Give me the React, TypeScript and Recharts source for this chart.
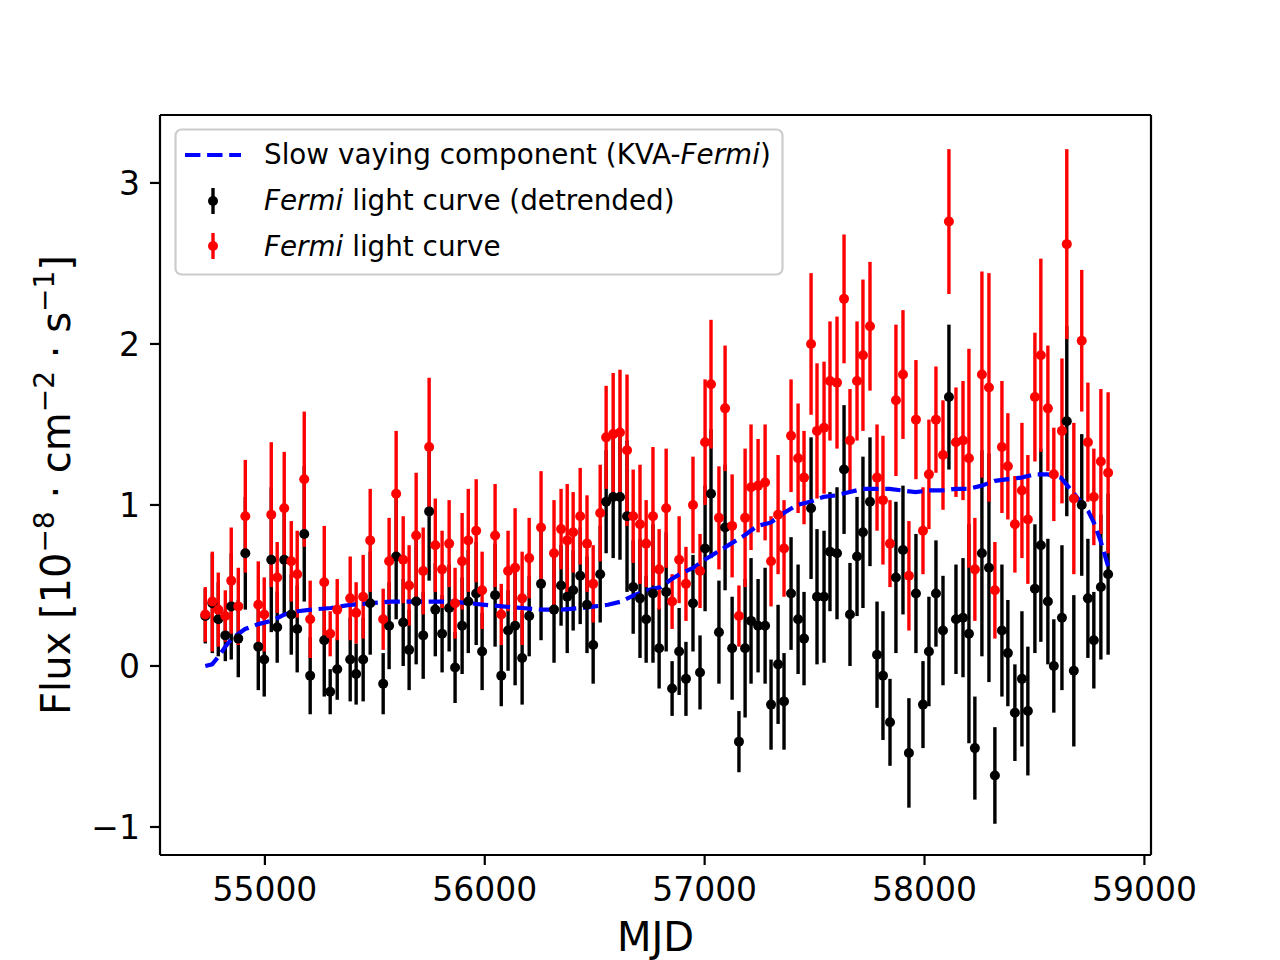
import { ComposedChart, Scatter, Line, ErrorBar, XAxis, YAxis, ReferenceLine } from 'recharts';

// Fermi light curve, 30-day bins (MJD), flux in 1e-8 cm^-2 s^-1
const mjd = [
  54729, 54761, 54788, 54820, 54847, 54879, 54911, 54970, 54997, 55029,
  55056, 55088, 55120, 55147, 55179, 55206, 55270, 55297, 55329, 55388,
  55415, 55447, 55479, 55538, 55565, 55597, 55629, 55656, 55688, 55720,
  55747, 55775, 55806, 55838, 55865, 55897, 55925, 55961, 55988, 56047,
  56075, 56106, 56138, 56170, 56202, 56256, 56315, 56347, 56375, 56402,
  56434, 56465, 56493, 56525, 56552, 56584, 56615, 56647, 56675, 56706,
  56734, 56765, 56793, 56825, 56852, 56884, 56915, 56947, 56979, 57002,
  57029, 57065, 57093, 57125, 57156, 57184, 57211, 57243, 57275, 57302,
  57334, 57361, 57393, 57425, 57452, 57484, 57511, 57543, 57570, 57602,
  57634, 57661, 57693, 57720, 57752, 57784, 57811, 57843, 57870, 57902,
  57929, 57961, 57993, 58020, 58052, 58084, 58111, 58143, 58175, 58202,
  58229, 58261, 58293, 58320, 58352, 58379, 58411, 58443, 58470, 58502,
  58529, 58561, 58588, 58625, 58647, 58679, 58715, 58743, 58770, 58802, 58835,
];

const fluxRaw = [
  0.32, 0.40, 0.35, 0.31, 0.53, 0.37, 0.93, 0.38, 0.32, 0.94,
  0.55, 0.98, 0.65, 0.57, 1.16, 0.29, 0.52, 0.20, 0.35, 0.42,
  0.33, 0.43, 0.78, 0.29, 0.65, 1.07, 0.66, 0.50, 0.81, 0.59,
  1.36, 0.75, 0.60, 0.76, 0.39, 0.65, 0.78, 0.84, 0.47, 0.81,
  0.32, 0.59, 0.61, 0.42, 0.67, 0.86, 0.70, 0.85, 0.78, 0.83,
  0.93, 0.76, 0.51, 0.95, 1.42, 1.44, 1.45, 1.34, 0.93, 0.88,
  0.76, 0.93, 0.60, 0.98, 0.40, 0.66, 0.51, 1.00, 0.59, 1.39,
  1.75, 0.92, 1.60, 0.87, 0.31, 0.92, 1.11, 1.12, 1.14, 0.65,
  0.94, 0.73, 1.43, 1.29, 1.17, 2.00, 1.46, 1.48, 1.77, 1.76,
  2.28, 1.40, 1.77, 1.93, 2.11, 1.17, 1.03, 0.76, 1.65, 1.81,
  0.56, 1.53, 0.84, 1.19, 1.53, 1.31, 2.76, 1.39, 1.40, 1.29,
  0.60, 1.81, 1.73, 0.47, 1.36, 1.24, 0.88, 1.09, 0.91, 1.67,
  1.93, 1.60, 1.19, 1.46, 2.62, 1.04, 2.02, 1.39, 1.05, 1.27, 1.20,
];

const fluxDetrended = [
  0.31, 0.39, 0.29, 0.19, 0.37, 0.17, 0.70, 0.12, 0.04, 0.66,
  0.24, 0.66, 0.32, 0.23, 0.82, -0.06, 0.16, -0.16, -0.02, 0.04,
  -0.05, 0.04, 0.39, -0.11, 0.25, 0.68, 0.27, 0.10, 0.40, 0.19,
  0.96, 0.35, 0.20, 0.36, -0.01, 0.25, 0.40, 0.45, 0.09, 0.44,
  -0.06, 0.22, 0.25, 0.05, 0.31, 0.51, 0.35, 0.50, 0.43, 0.47,
  0.56, 0.38, 0.13, 0.57, 1.02, 1.05, 1.05, 0.93, 0.49, 0.42,
  0.29, 0.45, 0.11, 0.46, -0.14, 0.09, -0.08, 0.39, -0.04, 0.73,
  1.07, 0.21, 0.86, 0.11, -0.47, 0.11, 0.28, 0.25, 0.25, -0.24,
  0.01, -0.22, 0.45, 0.29, 0.17, 0.98, 0.43, 0.43, 0.71, 0.70,
  1.22, 0.32, 0.68, 0.83, 1.02, 0.07, -0.06, -0.35, 0.55, 0.72,
  -0.54, 0.45, -0.24, 0.09, 0.45, 0.22, 1.67, 0.29, 0.30, 0.20,
  -0.51, 0.70, 0.61, -0.68, 0.22, 0.08, -0.29, -0.08, -0.28, 0.48,
  0.75, 0.40, 0.00, 0.30, 1.52, -0.03, 1.00, 0.42, 0.16, 0.49, 0.57,
];

const fluxErr = [
  0.17, 0.31, 0.23, 0.16, 0.33, 0.24, 0.35, 0.27, 0.23, 0.45,
  0.22, 0.35, 0.25, 0.27, 0.42, 0.24, 0.35, 0.14, 0.19, 0.26,
  0.19, 0.26, 0.32, 0.19, 0.27, 0.39, 0.27, 0.25, 0.39, 0.27,
  0.43, 0.29, 0.24, 0.27, 0.22, 0.30, 0.32, 0.32, 0.24, 0.32,
  0.19, 0.25, 0.37, 0.29, 0.25, 0.35, 0.33, 0.25, 0.35, 0.25,
  0.30, 0.30, 0.24, 0.30, 0.32, 0.38, 0.39, 0.47, 0.29, 0.37,
  0.27, 0.43, 0.25, 0.37, 0.17, 0.27, 0.23, 0.30, 0.23, 0.39,
  0.40, 0.32, 0.39, 0.32, 0.19, 0.43, 0.39, 0.29, 0.36, 0.28,
  0.37, 0.30, 0.35, 0.34, 0.29, 0.44, 0.42, 0.41, 0.37, 0.41,
  0.40, 0.32, 0.37, 0.47, 0.40, 0.33, 0.40, 0.27, 0.47, 0.40,
  0.34, 0.37, 0.27, 0.34, 0.33, 0.34, 0.45, 0.34, 0.37, 0.68,
  0.32, 0.64, 0.71, 0.30, 0.41, 0.33, 0.30, 0.42, 0.40, 0.40,
  0.60, 0.39, 0.29, 0.45, 0.59, 0.47, 0.44, 0.37, 0.30, 0.45, 0.50,
];

// slow varying component (KVA-Fermi)
const trendMjd = [
  54729, 54760, 54790, 54820, 54850, 54880, 54910, 54970, 55030, 55090,
  55150, 55210, 55300, 55390, 55480, 55570, 55660, 55750, 55840, 55930,
  56000, 56080, 56170, 56260, 56350, 56440, 56500, 56560, 56620, 56680,
  56740, 56800, 56850, 56900, 56950, 57000, 57060, 57120, 57180, 57240,
  57300, 57360, 57420, 57480, 57540, 57600, 57660, 57720, 57780, 57840,
  57900, 57960, 58020, 58080, 58140, 58200, 58260, 58320, 58380, 58440,
  58500, 58560, 58620, 58650, 58680, 58715, 58745, 58770, 58800, 58835,
];
const trendFlux = [
  0.00, 0.01, 0.06, 0.12, 0.17, 0.20, 0.23, 0.26, 0.28, 0.32,
  0.34, 0.35, 0.36, 0.38, 0.39, 0.40, 0.40, 0.40, 0.40, 0.39,
  0.38, 0.37, 0.36, 0.35, 0.35, 0.36, 0.37, 0.38, 0.40, 0.44,
  0.47, 0.49, 0.54, 0.58, 0.61, 0.66, 0.71, 0.76, 0.81, 0.87,
  0.89, 0.95, 1.00, 1.02, 1.05, 1.06, 1.08, 1.10, 1.10, 1.10,
  1.09, 1.08, 1.09, 1.09, 1.10, 1.10, 1.12, 1.15, 1.16, 1.17,
  1.19, 1.19, 1.17, 1.12, 1.07, 1.01, 0.96, 0.89, 0.78, 0.62,
];

const xTicks = [55000, 56000, 57000, 58000, 59000];
const yTicks = [-1, 0, 1, 2, 3];
const xDomain = [54523, 59030];
const yDomain = [-1.174, 3.422];

const rawPoints = mjd.map((m, i) => ({ mjd: m, flux: fluxRaw[i], err: fluxErr[i] }));
const detrendedPoints = mjd.map((m, i) => ({ mjd: m, flux: fluxDetrended[i], err: fluxErr[i] }));
const trendPoints = trendMjd.map((m, i) => ({ mjd: m, flux: trendFlux[i] }));

const FONT = 'DejaVu Sans';
const RED = '#ff0000';
const BLUE = '#0000ff';

const formatY = (v: number) => (v < 0 ? `\u2212${Math.abs(v)}` : `${v}`);

const noDot = () => <g />;
const dot = (color: string) => (p: any) => <circle cx={p.cx} cy={p.cy} r={5} fill={color} />;

export default function App() {
  return (
    <div style={{ position: 'absolute', left: 0, top: 0, width: 1280, height: 960, background: '#fff', fontFamily: FONT }}>
      <ComposedChart width={1280} height={960} margin={{ top: 115, right: 129, bottom: 0, left: 0 }}>
        <XAxis
          dataKey="mjd"
          type="number"
          domain={xDomain}
          ticks={xTicks}
          interval={0}
          height={105}
          tick={{ fontSize: 33, fill: '#000', fontFamily: FONT }}
          tickSize={10}
          tickMargin={13}
          stroke="#000"
          strokeWidth={2.2}
        />
        <YAxis
          dataKey="flux"
          type="number"
          domain={yDomain}
          ticks={yTicks}
          interval={0}
          width={160}
          tickFormatter={formatY}
          tick={{ fontSize: 33, fill: '#000', fontFamily: FONT }}
          tickSize={10}
          tickMargin={10}
          stroke="#000"
          strokeWidth={2.2}
        />

        <Scatter data={detrendedPoints} shape={noDot} isAnimationActive={false}>
          <ErrorBar dataKey="err" direction="y" width={0} stroke="#000" strokeWidth={3.4} isAnimationActive={false} />
        </Scatter>
        <Scatter data={rawPoints} shape={noDot} isAnimationActive={false}>
          <ErrorBar dataKey="err" direction="y" width={0} stroke={RED} strokeWidth={3.4} isAnimationActive={false} />
        </Scatter>
        <Scatter data={detrendedPoints} shape={dot('#000')} isAnimationActive={false} />
        <Scatter data={rawPoints} shape={dot(RED)} isAnimationActive={false} />
        <Line
          data={trendPoints}
          dataKey="flux"
          type="linear"
          stroke={BLUE}
          strokeWidth={4.2}
          strokeDasharray="15.4 6.7"
          dot={false}
          activeDot={false}
          isAnimationActive={false}
        />

        {/* frame: top and right spines */}
        <ReferenceLine y={yDomain[1]} stroke="#000" strokeWidth={2.2} />
        <ReferenceLine x={xDomain[1]} stroke="#000" strokeWidth={2.2} />
      </ComposedChart>

      <svg width={1280} height={960} style={{ position: 'absolute', left: 0, top: 0, pointerEvents: 'none' }} fontFamily={FONT}>
        {/* legend */}
        <rect x={175.5} y={129.5} width={607} height={145} rx={6} fill="#fff" fillOpacity={0.8} stroke="#cccccc" strokeWidth={2.2} />
        <line x1={185} y1={155} x2={241} y2={155} stroke={BLUE} strokeWidth={4.2} strokeDasharray="15.4 6.7" />
        <line x1={213} y1={188} x2={213} y2={214} stroke="#000" strokeWidth={3.4} />
        <circle cx={213} cy={201} r={5} fill="#000" />
        <line x1={213} y1={233} x2={213} y2={259} stroke={RED} strokeWidth={3.4} />
        <circle cx={213} cy={246} r={5} fill={RED} />
        <text x={264} y={164} fontSize={27.8} fill="#000">
          Slow vaying component (KVA-<tspan fontStyle="italic">Fermi</tspan>)
        </text>
        <text x={264} y={210} fontSize={27.8} fill="#000">
          <tspan fontStyle="italic">Fermi</tspan> light curve (detrended)
        </text>
        <text x={264} y={256} fontSize={27.8} fill="#000">
          <tspan fontStyle="italic">Fermi</tspan> light curve
        </text>

        {/* axis labels */}
        <text x={655.5} y={951} fontSize={40} textAnchor="middle" fill="#000">MJD</text>
        <text x={70} y={485} fontSize={40} textAnchor="middle" fill="#000" transform="rotate(-90 70 485)">
          Flux [10<tspan fontSize={28} dy={-16}>{'\u22128'}</tspan>
          <tspan dy={16}> · cm</tspan>
          <tspan fontSize={28} dy={-16}>{'\u22122'}</tspan>
          <tspan dy={16}> · s</tspan>
          <tspan fontSize={28} dy={-16}>{'\u22121'}</tspan>
          <tspan dy={16}>]</tspan>
        </text>
      </svg>
    </div>
  );
}
